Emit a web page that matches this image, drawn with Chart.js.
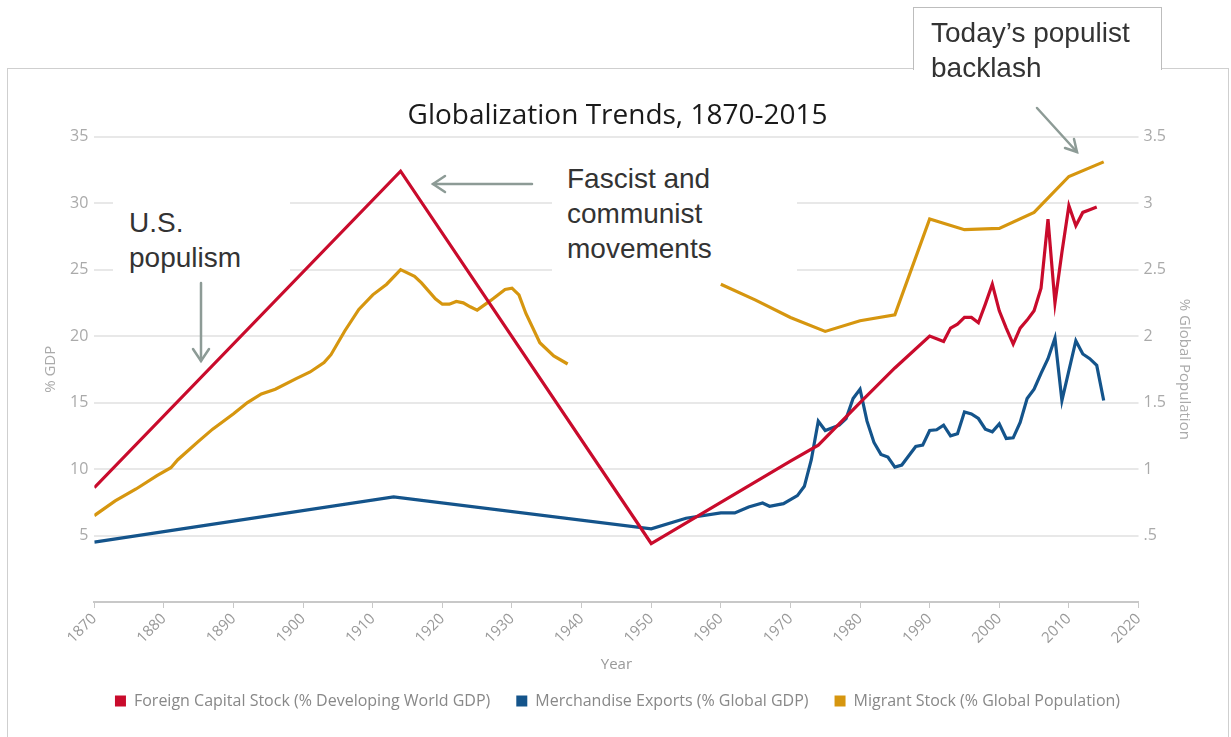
<!DOCTYPE html>
<html lang="en">
<head>
  <meta charset="UTF-8">
  <title>Globalization Trends, 1870-2015</title>
  <script src="https://cdn.jsdelivr.net/npm/chart.js"></script>
  <style>
    body {
      margin: 0;
      background: #fff;
      font-family: 'Liberation Sans', Arial, sans-serif;
    }
    .page {
      position: relative;
      width: 1231px;
      height: 737px;
      overflow: hidden;
    }
    .frame {
      position: absolute;
      left: 7px;
      top: 68px;
      width: 1220px;
      height: 720px;
      border: 1px solid #cfcfcf;
    }
    .chart-box {
      position: absolute;
      left: 0;
      top: 0;
      width: 1231px;
      height: 737px;
    }
    .note {
      position: absolute;
      box-sizing: border-box;
      background: #fff;
      color: #333;
      font-size: 28px;
      line-height: 35px;
    }
    #noteToday {
      border: 1px solid #bdbdbd;
      border-bottom: none;
    }
    svg.arrows {
      position: absolute;
      left: 0;
      top: 0;
    }
  </style>
</head>
<body>
  <div class="page">
    <div class="frame"></div>
    <div class="chart-box"><canvas id="trendChart"></canvas></div>

    <!-- annotations -->
    <div class="note" style="left:113px; top:190px; width:177px; height:88px; padding:15px 0 0 16px;">U.S.<br>populism</div>
    <div class="note" style="left:552px; top:155px; width:245px; height:123px; padding:6px 0 0 15px;">Fascist and<br>communist<br>movements</div>
    <div class="note" id="noteToday" style="left:913px; top:7px; width:249px; height:63px; padding:7px 0 0 17px;">Today’s populist<br>backlash</div>

    <svg class="arrows" width="1231" height="737">
      <g stroke="#8d9b96" stroke-width="2.5" fill="none" stroke-linecap="round">
        <line x1="201" y1="283" x2="201" y2="361"/>
        <polyline points="193,349 201,361 209,349"/>
        <line x1="532" y1="184" x2="433" y2="184"/>
        <polyline points="445,176 433,184 445,192"/>
        <line x1="1037" y1="108" x2="1077" y2="152"/>
        <polyline points="1074,139 1077,152 1065,148"/>
      </g>
    </svg>
  </div>

  <script>
    // Foreign capital stock, % of developing world GDP (left axis)
    const capitalYears = [1870, 1914, 1950, 1960, 1970, 1974, 1980, 1985, 1990, 1991, 1992, 1993, 1994,
      1995, 1996, 1997, 1998, 1999, 2000, 2001, 2002, 2003, 2004, 2005, 2006, 2007, 2008, 2009, 2010,
      2011, 2012, 2013, 2014];
    const capitalValues = [8.6, 32.4, 4.4, 7.5, 10.6, 11.8, 15.0, 17.6, 20.0, 19.8, 19.6, 20.6, 20.9,
      21.4, 21.4, 21.0, 22.4, 23.9, 21.9, 20.6, 19.4, 20.6, 21.2, 21.9, 23.6, 28.8, 22.5, 26.3, 29.8,
      28.3, 29.3, 29.5, 29.7];

    // Merchandise exports, % of global GDP (left axis)
    const exportYears = [1870, 1913, 1950, 1955, 1960, 1962, 1964, 1966, 1967, 1969, 1971, 1972, 1973,
      1974, 1975, 1977, 1978, 1979, 1980, 1981, 1982, 1983, 1984, 1985, 1986, 1987, 1988, 1989, 1990,
      1991, 1992, 1993, 1994, 1995, 1996, 1997, 1998, 1999, 2000, 2001, 2002, 2003, 2004, 2005, 2006,
      2007, 2008, 2009, 2010, 2011, 2012, 2013, 2014, 2015];
    const exportValues = [4.5, 7.9, 5.5, 6.3, 6.7, 6.7, 7.15, 7.45, 7.2, 7.4, 8.0, 8.7, 10.7,
      13.6, 12.9, 13.3, 13.8, 15.3, 16.0, 13.6, 12.0, 11.1, 10.9, 10.15, 10.3, 11.0, 11.7, 11.8, 12.9,
      12.95, 13.3, 12.5, 12.65, 14.3, 14.15, 13.8, 13.0, 12.8, 13.4, 12.3, 12.35, 13.5, 15.3, 16.0, 17.2,
      18.3, 19.85, 15.15, 17.4, 19.65, 18.65, 18.3, 17.8, 15.15];

    // Migrant stock, % of global population (right axis), null = no data
    const migrantYears = [1870, 1873, 1876, 1879, 1881, 1882, 1885, 1887, 1890, 1892, 1894, 1896, 1899,
      1901, 1903, 1904, 1906, 1908, 1910, 1912, 1914, 1916, 1917, 1919, 1920, 1921, 1922, 1923, 1924,
      1925, 1927, 1929, 1930, 1931, 1932, 1934, 1936, 1938, 1950, 1960, 1965, 1970, 1975, 1980, 1985,
      1990, 1995, 2000, 2005, 2010, 2015];
    const migrantValues = [0.65, 0.76, 0.85, 0.95, 1.01, 1.07, 1.21, 1.30, 1.415, 1.50, 1.565, 1.60, 1.68,
      1.73, 1.80, 1.86, 2.04, 2.20, 2.31, 2.39, 2.50, 2.45, 2.40, 2.28, 2.24, 2.24, 2.26, 2.25, 2.22,
      2.195, 2.27, 2.35, 2.36, 2.31, 2.17, 1.95, 1.85, 1.79, null, 2.39, 2.27, 2.14, 2.035, 2.115, 2.16,
      2.88, 2.80, 2.81, 2.93, 3.20, 3.31];

    const seriesNames = [
      'Foreign Capital Stock (% Developing World GDP)',
      'Merchandise Exports (% Global GDP)',
      'Migrant Stock (% Global Population)'
    ];
    const seriesColors = ['#c90b2c', '#14548b', '#d6960f'];

    function toPoints(years, values) {
      return years.map((year, i) => ({ x: year, y: values[i] }));
    }

    Chart.defaults.font.family = "'Open Sans', sans-serif";

    const ctx = document.getElementById('trendChart').getContext('2d');
    new Chart(ctx, {
      type: 'line',
      data: {
        datasets: [
          {
            label: seriesNames[0],
            data: toPoints(capitalYears, capitalValues),
            borderColor: seriesColors[0],
            backgroundColor: seriesColors[0],
            yAxisID: 'y'
          },
          {
            label: seriesNames[1],
            data: toPoints(exportYears, exportValues),
            borderColor: seriesColors[1],
            backgroundColor: seriesColors[1],
            yAxisID: 'y'
          },
          {
            label: seriesNames[2],
            data: toPoints(migrantYears, migrantValues),
            borderColor: seriesColors[2],
            backgroundColor: seriesColors[2],
            yAxisID: 'y1'
          }
        ]
      },
      options: {
        responsive: true,
        maintainAspectRatio: false,
        animation: false,
        spanGaps: false,
        layout: { padding: { top: 99, left: 38, right: 34, bottom: 18 } },
        elements: {
          point: { radius: 0 },
          line: { borderWidth: 3.2, tension: 0 }
        },
        plugins: {
          title: {
            display: true,
            text: 'Globalization Trends, 1870-2015',
            color: '#1a1a1a',
            font: { size: 28, weight: 'normal' },
            padding: { top: 0, bottom: 4 }
          },
          legend: {
            position: 'bottom',
            labels: {
              boxWidth: 11,
              boxHeight: 11,
              padding: 26,
              color: '#888',
              font: { size: 16 },
              generateLabels: chart => Chart.defaults.plugins.legend.labels.generateLabels(chart)
                .map(item => Object.assign(item, { lineWidth: 0 }))
            }
          },
          tooltip: { enabled: false }
        },
        scales: {
          x: {
            type: 'linear',
            min: 1870,
            max: 2020,
            ticks: {
              stepSize: 10,
              minRotation: 45,
              maxRotation: 45,
              color: '#999',
              font: { size: 15 },
              padding: 2,
              callback: v => String(v)
            },
            grid: { drawOnChartArea: false, drawTicks: true, tickLength: 6, color: '#c8c8c8' },
            border: { color: '#c8c8c8', width: 2 },
            title: { display: true, text: 'Year', color: '#999', font: { size: 15 }, padding: { top: 7, bottom: -7 } }
          },
          y: {
            position: 'left',
            min: 0,
            max: 35,
            ticks: {
              stepSize: 5,
              color: '#aaa',
              font: { size: 16 },
              padding: 6,
              callback: v => (v === 0 ? '' : v)
            },
            grid: { color: '#e8e8e8', lineWidth: 2, drawTicks: false },
            border: { display: false },
            title: { display: true, text: '% GDP', color: '#aaa', font: { size: 15 } }
          },
          y1: {
            position: 'right',
            min: 0,
            max: 3.5,
            ticks: {
              stepSize: 0.5,
              color: '#aaa',
              font: { size: 16 },
              padding: 5,
              callback: v => (v === 0 ? '' : (v === 0.5 ? '.5' : v))
            },
            grid: { drawOnChartArea: false, drawTicks: false },
            border: { display: false },
            title: { display: true, text: '% Global Population', color: '#aaa', font: { size: 15 } }
          }
        }
      }
    });
  </script>
</body>
</html>
